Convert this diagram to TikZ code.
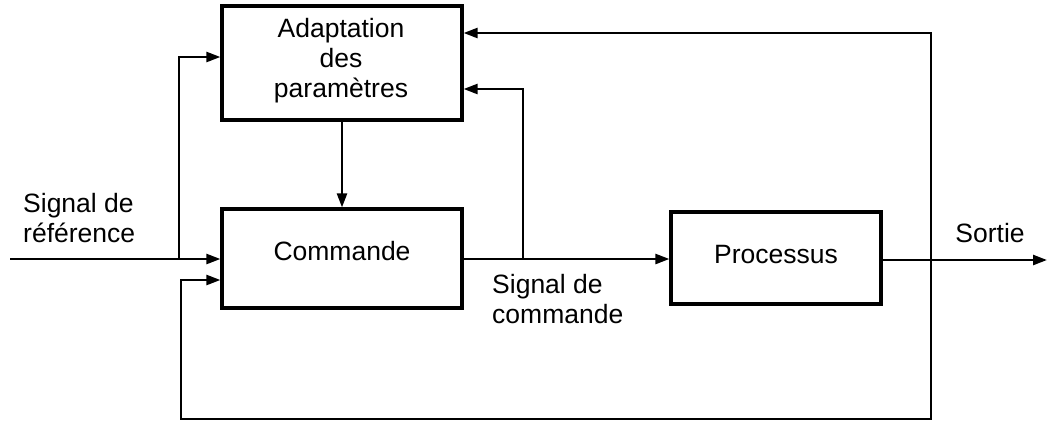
\documentclass[tikz,border=0pt]{standalone}
\usepackage{fontspec}
\setmainfont{Liberation Sans}
\usetikzlibrary{arrows.meta}
\begin{document}
\begin{tikzpicture}[x=1pt,y=-1pt,
  blockbox/.style={draw, line width=3.2pt, rectangle, inner sep=0pt},
  wire/.style={line width=2.4pt},
  feed/.style={wire, -{Triangle[length=14pt,width=10pt]}},
  lbl/.style={font=\fontsize{26.5}{30}\selectfont, inner sep=0pt}]
  \useasboundingbox (0,0) rectangle (1048,421);

  % blocks
  \node[blockbox, minimum width=240pt, minimum height=114pt] (adapt) at (342,63) {};
  \node[blockbox, minimum width=240pt, minimum height=99pt] (cmd) at (342,258.5) {};
  \node[blockbox, minimum width=210pt, minimum height=92pt] (proc) at (776,258) {};

  % block texts (base anchor = baseline of the last line)
  \node[lbl, align=center, anchor=base] (adapttxt) at (341,97) {Adaptation\\des\\paramètres};
  \node[lbl, anchor=base] (cmdtxt) at (342,260) {Commande};
  \node[lbl, anchor=base] (proctxt) at (776,263) {Processus};

  % signal labels
  \node[lbl, align=left, anchor=base west] (reftxt) at (23,242) {Signal de\\référence};
  \node[lbl, align=left, anchor=base west] (ucmdtxt) at (492,323) {Signal de\\commande};
  \node[lbl, anchor=base] (outtxt) at (990,242) {Sortie};

  % junctions and free ends
  \coordinate (in) at (10,259);
  \coordinate (jref) at (179,259);
  \coordinate (jcmd) at (523,259);
  \coordinate (jout) at (931,260);
  \coordinate (out) at (1047,260);
  \coordinate (fbl) at (181,419);
  \coordinate (fbr) at (931,419);

  % reference signal
  \draw[feed] (in) -- (in -| cmd.west);
  \draw[feed] (jref) -- (179,57) -- (adapt.west |- 0,57);

  % adaptation to control
  \draw[feed] (adapt.south) -- (cmd.north);

  % control signal
  \draw[feed] (cmd.east |- jcmd) -- (proc.west |- jcmd);
  \draw[feed] (jcmd) -- (523,89) -- (adapt.east |- 0,89);

  % output
  \draw[feed] (proc.east |- jout) -- (out);
  \draw[feed] (jout) -- (931,33) -- (adapt.east |- 0,33);

  % output feedback to control
  \draw[feed] (jout) -- (fbr) -- (fbl) -- (181,280) -- (cmd.west |- 0,280);
\end{tikzpicture}
\end{document}
